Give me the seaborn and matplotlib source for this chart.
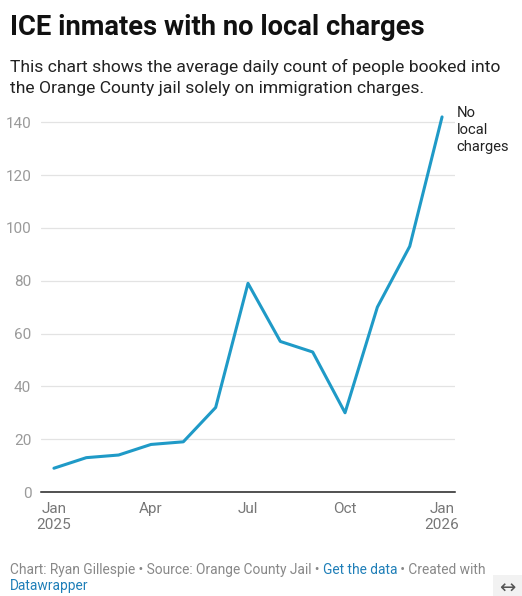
import matplotlib
matplotlib.use("Agg")
import matplotlib.pyplot as plt
import seaborn as sns
import pandas as pd

# monthly values, Jan 2025 - Jan 2026
months = ["2025-01", "2025-02", "2025-03", "2025-04", "2025-05", "2025-06", "2025-07",
          "2025-08", "2025-09", "2025-10", "2025-11", "2025-12", "2026-01"]
no_local = [9, 13, 14, 18, 19, 32, 79, 57, 53, 30, 70, 93, 142]
tick_pos = [0, 3, 6, 9, 12]
tick_labels = ["Jan\n2025", "Apr", "Jul", "Oct", "Jan\n2026"]
y_ticks = [0, 20, 40, 60, 80, 100, 120, 140]

df = pd.DataFrame({"idx": range(len(months)), "month": months, "count": no_local})

sns.set_style("white")
plt.rcParams["font.family"] = ["Roboto", "DejaVu Sans"]

fig = plt.figure(figsize=(5.22, 5.96), dpi=100)
ax = fig.add_axes([41 / 522, 1 - 492 / 596, 414 / 522, 383 / 596])

sns.lineplot(data=df, x="idx", y="count", ax=ax, color="#1f9ac7", linewidth=2.2)

ax.set_xlim(-0.4, 12.4)
ax.set_ylim(0, 145)
ax.set_yticks(y_ticks)
ax.set_xticks(tick_pos)
ax.set_xticklabels(tick_labels, linespacing=1.2)
ax.set_xlabel("")
ax.set_ylabel("")
ax.grid(axis="y", color="#e3e3e3", linewidth=0.9)
ax.grid(axis="x", visible=False)
for s in ["top", "right", "left"]:
    ax.spines[s].set_visible(False)
ax.spines["bottom"].set_color("#222222")
ax.spines["bottom"].set_linewidth(1.1)
ax.tick_params(axis="y", length=0, pad=7, labelsize=11, labelcolor="#9a9a9a")
ax.tick_params(axis="x", length=0, pad=7, labelsize=11, labelcolor="#777777")

ax.text(12.45, 146, "No\nlocal\ncharges", fontsize=10.6, color="#222222",
        va="top", ha="left", linespacing=1.25, clip_on=False)

# titles
fig.text(10 / 522, 1 - 35 / 596, "ICE inmates with no local charges", fontsize=19.7,
         fontweight="bold", color="#111111", va="baseline", ha="left")
fig.text(10 / 522, 1 - 72 / 596, "This chart shows the average daily count of people booked into",
         fontsize=12.6, color="#222222", va="baseline", ha="left")
fig.text(10 / 522, 1 - 93 / 596, "the Orange County jail solely on immigration charges.",
         fontsize=12.6, color="#222222", va="baseline", ha="left")

# footer with mixed colors
fig.canvas.draw()
renderer = fig.canvas.get_renderer()
parts = [("Chart: Ryan Gillespie • Source: Orange County Jail • ", "#888888"),
         ("Get the data", "#1f7fb8"),
         (" • Created with", "#888888")]
x0 = 10 / 522
x = x0
for txt, col in parts:
    t = fig.text(x, 1 - 574 / 596, txt, fontsize=9.95, color=col, va="baseline", ha="left")
    bb = t.get_window_extent(renderer=renderer)
    x += bb.width / fig.bbox.width
fig.text(x0, 1 - 590 / 596, "Datawrapper", fontsize=9.95, color="#1f7fb8", va="baseline", ha="left")

fig.patches.append(plt.Rectangle((493 / 522, 0), 29 / 522, 21 / 596, transform=fig.transFigure,
                                 facecolor="#f2f2f2", edgecolor="none"))
fig.text(507 / 522, 1 - 588 / 596, "↔", fontsize=14, color="#555555", ha="center", va="center",
         family="DejaVu Sans")

fig.savefig("out.png", dpi=100)
